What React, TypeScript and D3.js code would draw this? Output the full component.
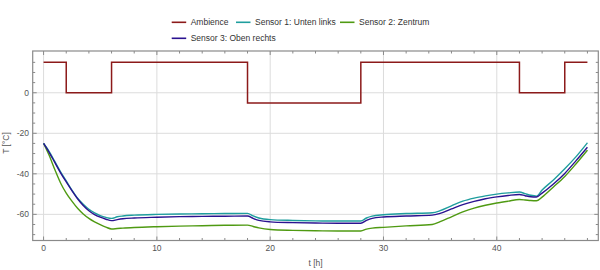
import React from "react";
import * as d3 from "d3";

const ambienceT = [0, 2, 2, 6, 6, 18, 18, 28, 28, 42, 42, 46, 46, 48];
const ambienceV = [15, 15, 0, 0, 15, 15, -5, -5, 15, 15, 0, 0, 15, 15];

const sensorT = [0, 0.5, 1, 1.5, 2, 2.5, 3, 3.5, 4, 4.5, 5, 5.5, 6, 6.5, 7, 8, 10, 12, 14, 16, 18, 18.5, 19, 20, 22, 24, 26, 28, 28.5, 29, 30, 32, 34.3, 35, 36, 37, 38, 39, 40, 41, 42, 42.5, 43, 43.5, 44, 45, 46, 47, 48];

const sensor1 = [-25, -29, -34, -39, -43.5, -48, -52, -55, -57.5, -59.3, -60.6, -61.5, -62, -61.2, -60.8, -60.4, -60.0, -59.8, -59.7, -59.6, -59.5, -60.8, -61.8, -62.6, -63.0, -63.2, -63.3, -63.3, -61.8, -60.9, -60.2, -59.6, -59.2, -58.2, -55.8, -53.5, -52, -50.9, -50, -49.4, -49, -49.8, -50.6, -51, -48, -43, -37.5, -31.5, -24.7];
const sensor2 = [-25, -31, -38, -44.5, -49.5, -53.5, -57, -59.8, -62, -63.7, -65.1, -66.3, -67.2, -67, -66.8, -66.5, -66.1, -65.8, -65.6, -65.4, -65.3, -66, -66.7, -67.5, -67.9, -68.1, -68.2, -68.2, -67.3, -66.8, -66.4, -65.7, -65, -63.6, -61.2, -58.8, -56.9, -55.5, -54.4, -53.5, -52.7, -52.9, -53.2, -53.3, -51.5, -46.5, -41.3, -35, -28.3];
const sensor3 = [-25, -29.5, -34.5, -39.5, -44, -48.3, -52.3, -55.6, -58.2, -60.1, -61.4, -62.4, -63.1, -62.6, -62.2, -61.8, -61.4, -61.1, -61.0, -60.9, -60.8, -62, -63, -63.7, -64.1, -64.3, -64.4, -64.4, -63, -62, -61.3, -60.8, -60.4, -59.5, -57.3, -55.2, -53.6, -52.3, -51.4, -50.7, -50.2, -50.8, -51.3, -51.4, -49.5, -45, -39.8, -33.5, -26.9];

const seriesNames = ["Ambience", "Sensor 1: Unten links", "Sensor 2: Zentrum", "Sensor 3: Oben rechts"];
const seriesColors = ["#8c1a1a", "#1f9e9e", "#4f9a12", "#2a1290"];

const xMajor = [0, 10, 20, 30, 40];
const xMinor = d3.range(-0, 49, 2);
const yMajor = [0, -20, -40, -60];
const yMinor = d3.range(-70, 20, 5);

export default function App() {
  const left = 32.7, right = 598.3, top = 51, bottom = 240.5;
  const x = d3.scaleLinear().domain([-0.96, 48.96]).range([left, right]);
  const y = d3.scaleLinear().domain([-72.9, 20.6]).range([bottom, top]);
  const font = "'Liberation Sans', Arial, sans-serif";

  const stepLine = d3.line<number>().x((_, i) => x(ambienceT[i])).y((v) => y(v));
  const smooth = d3.line<number>().x((_, i) => x(sensorT[i])).y((v) => y(v)).curve(d3.curveMonotoneX);

  const sensors = [sensor1, sensor2, sensor3];
  const frameColor = "#8a8a8a";
  const gridColor = "#dcdcdc";

  const legendItems = [
    { i: 0, lx: 171.7, ty: 22.3 },
    { i: 1, lx: 236, ty: 22.3 },
    { i: 2, lx: 340, ty: 22.3 },
    { i: 3, lx: 171.7, ty: 38.3 },
  ];

  return (
    <div style={{ position: "absolute", left: 0, top: 0 }}>
      <svg width={600} height={270} style={{ display: "block", background: "#fff" }}>
        <rect x={0} y={0} width={600} height={270} fill="#fff" />
        {xMajor.map((t) => (
          <line key={"gx" + t} x1={x(t)} x2={x(t)} y1={top} y2={bottom} stroke={gridColor} strokeWidth={1} />
        ))}
        {yMajor.map((v) => (
          <line key={"gy" + v} x1={left} x2={right} y1={y(v)} y2={y(v)} stroke={gridColor} strokeWidth={1} />
        ))}
        {xMinor.map((t) => {
          const len = xMajor.includes(t) ? 4 : 2.5;
          return (
            <g key={"tx" + t}>
              <line x1={x(t)} x2={x(t)} y1={bottom} y2={bottom - len} stroke={frameColor} />
              <line x1={x(t)} x2={x(t)} y1={top} y2={top + len} stroke={frameColor} />
            </g>
          );
        })}
        {yMinor.map((v) => {
          const len = yMajor.includes(v) ? 4 : 2.5;
          return (
            <g key={"ty" + v}>
              <line x1={left} x2={left + len} y1={y(v)} y2={y(v)} stroke={frameColor} />
              <line x1={right} x2={right - len} y1={y(v)} y2={y(v)} stroke={frameColor} />
            </g>
          );
        })}
        <path d={stepLine(ambienceV) || ""} fill="none" stroke={seriesColors[0]} strokeWidth={1.5} />
        {[1, 0, 2].map((k) => (
          <path key={"s" + k} d={smooth(sensors[k]) || ""} fill="none" stroke={seriesColors[k + 1]} strokeWidth={1.4} />
        ))}
        <rect x={left} y={top} width={right - left} height={bottom - top} fill="none" stroke={frameColor} strokeWidth={1.2} />
        {xMajor.map((t) => (
          <text key={"lx" + t} x={x(t)} y={251} textAnchor="middle" fontFamily={font} fontSize={8.5} fill="#555">{t}</text>
        ))}
        {yMajor.map((v) => (
          <text key={"ly" + v} x={29} y={y(v) + 3} textAnchor="end" fontFamily={font} fontSize={8.5} fill="#555">{v === 0 ? "0" : "-" + Math.abs(v)}</text>
        ))}
        <text x={315.5} y={266} textAnchor="middle" fontFamily={font} fontSize={8.5} fill="#555">t [h]</text>
        <text transform="translate(9,143) rotate(-90)" textAnchor="middle" fontFamily={font} fontSize={8.5} fill="#555">T [°C]</text>
        {legendItems.map(({ i, lx, ty }) => (
          <g key={"lg" + i}>
            <line x1={lx} x2={lx + 14.5} y1={ty} y2={ty} stroke={seriesColors[i]} strokeWidth={1.6} />
            <text x={lx + 19} y={ty + 3} fontFamily={font} fontSize={8.5} fill="#333">{seriesNames[i]}</text>
          </g>
        ))}
      </svg>
    </div>
  );
}
